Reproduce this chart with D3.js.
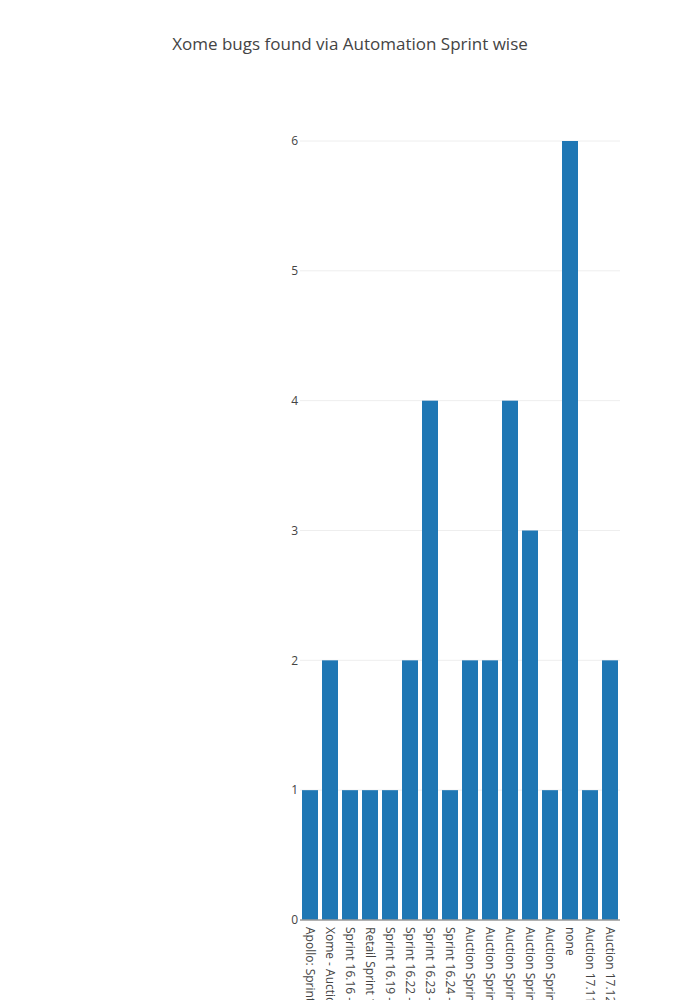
<!DOCTYPE html>
<html>
<head>
<meta charset="utf-8">
<script src="https://cdn.jsdelivr.net/npm/d3@7"></script>
<style>
body { margin: 0; background: #fff; }
text { font-family: "Open Sans", sans-serif; }
</style>
</head>
<body>
<svg id="chart" width="700" height="1000"></svg>
<script>
// sprint names and bug counts
var sprints = [
  "Apollo: Sprint 16.15 - Retail",
  "Xome - Auction Sprint 16.15",
  "Sprint 16.16 - Retail",
  "Retail Sprint 16.17",
  "Sprint 16.19 - Auction",
  "Sprint 16.22 - Auction",
  "Sprint 16.23 - Auction",
  "Sprint 16.24 - Auction",
  "Auction Sprint 17.01",
  "Auction Sprint 17.02",
  "Auction Sprint 17.03",
  "Auction Sprint 17.04",
  "Auction Sprint 17.05",
  "none",
  "Auction 17.11",
  "Auction 17.12"
];
var bugCounts = [1, 2, 1, 1, 1, 2, 4, 1, 2, 2, 4, 3, 1, 6, 1, 2];
var yTicks = [0, 1, 2, 3, 4, 5, 6];

var svg = d3.select("#chart");

svg.append("text")
.text("Xome bugs found via Automation Sprint wise")
.attr("x", 350)
.attr("y", 50)
.attr("text-anchor", "middle")
.attr("font-size", 17)
.attr("fill", "#444");

var x = d3.scaleBand()
.domain(sprints)
.range([300, 620])
.paddingInner(0.2)
.paddingOuter(0.1);

var y = d3.scaleLinear()
.domain([0, 6])
.range([920, 141]);

// grid lines
svg.selectAll(".grid")
.data(yTicks.slice(1))
.enter().append("line")
.attr("x1", 300)
.attr("x2", 620)
.attr("y1", function (d) { return y(d); })
.attr("y2", function (d) { return y(d); })
.style("stroke", "#eee");

svg.selectAll(".ytick")
.data(yTicks)
.enter().append("text")
.text(function (d) { return d; })
.attr("x", 298)
.attr("y", function (d) { return y(d); })
.attr("dy", "0.35em")
.attr("text-anchor", "end")
.attr("font-size", 12)
.attr("fill", "#444");

svg.selectAll(".bar")
.data(sprints)
.enter().append("rect")
.attr("x", function (d) { return x(d); })
.attr("y", function (d, i) { return y(bugCounts[i]); })
.attr("width", x.bandwidth())
.attr("height", function (d, i) { return y(0) - y(bugCounts[i]); })
.style("fill", "#1f77b4");

// zero line
svg.append("line")
.attr("x1", 300)
.attr("x2", 620)
.attr("y1", y(0))
.attr("y2", y(0))
.style("stroke", "#999")
.style("stroke-width", 1.5);

svg.selectAll(".xlabel")
.data(sprints)
.enter().append("text")
.text(function (d) { return d; })
.attr("transform", function (d) {
  return "translate(" + (x(d) + x.bandwidth() / 2) + ",927) rotate(90)";
})
.attr("dy", "0.35em")
.attr("font-size", 12)
.attr("fill", "#444");
</script>
</body>
</html>
